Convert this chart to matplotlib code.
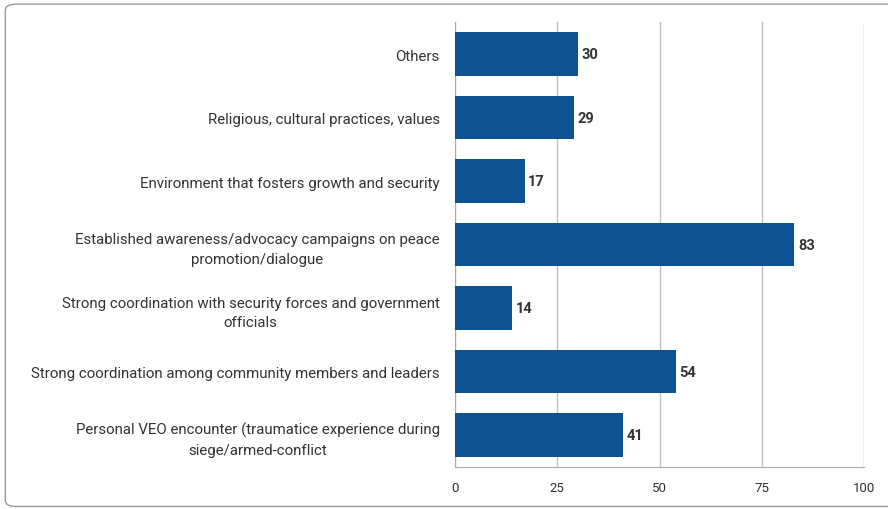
import matplotlib.pyplot as plt
from matplotlib.patches import FancyBboxPatch

plt.rcParams['font.family'] = ['Roboto', 'DejaVu Sans']

categories = [
    "Others",
    "Religious, cultural practices, values",
    "Environment that fosters growth and security",
    "Established awareness/advocacy campaigns on peace\npromotion/dialogue",
    "Strong coordination with security forces and government\nofficials",
    "Strong coordination among community members and leaders",
    "Personal VEO encounter (traumatice experience during\nsiege/armed-conflict",
]
values = [30, 29, 17, 83, 14, 54, 41]
xticks = [0, 25, 50, 75, 100]

bar_color = '#0d5394'
text_color = '#333333'
grid_color = '#c0c0c0'

fig = plt.figure(figsize=(8.88, 5.10), dpi=100)
# rounded frame, runs off the right edge
frame = FancyBboxPatch((0.006, 0.005), 1.02, 0.985, boxstyle='round,pad=0,rounding_size=0.012',
                       transform=fig.transFigure, facecolor='none', edgecolor='#9a9a9a',
                       linewidth=1.0, zorder=-1)
fig.patches.append(frame)

ax = fig.add_axes([0.5124, 0.0828, 0.4606, 0.8716])
ax.set_facecolor('none')

ypos = list(range(len(categories)))
ax.barh(ypos, values, height=0.69, color=bar_color, zorder=3)
for y, v in zip(ypos, values):
    ax.text(v + 0.9, y, str(v), va='center', ha='left', fontsize=10.5,
            fontweight='bold', color=text_color, zorder=4)

ax.set_ylim(len(categories) - 0.5, -0.5)
ax.set_xlim(0, 100)
ax.set_yticks(ypos)
ax.set_yticklabels(categories, fontsize=10.8, color=text_color,
                   multialignment='center', linespacing=1.5)
ax.set_xticks(xticks)
ax.set_xticklabels([str(t) for t in xticks], fontsize=9.5, color=text_color)
ax.tick_params(axis='y', length=0, pad=11)
ax.tick_params(axis='x', length=0, pad=10)
ax.grid(axis='x', color=grid_color, linewidth=1, zorder=0)
for side in ['top', 'right']:
    ax.spines[side].set_visible(False)
ax.spines['left'].set_color('#aaaaaa')
ax.spines['bottom'].set_color('#aaaaaa')

fig.savefig('out.png', dpi=100)
